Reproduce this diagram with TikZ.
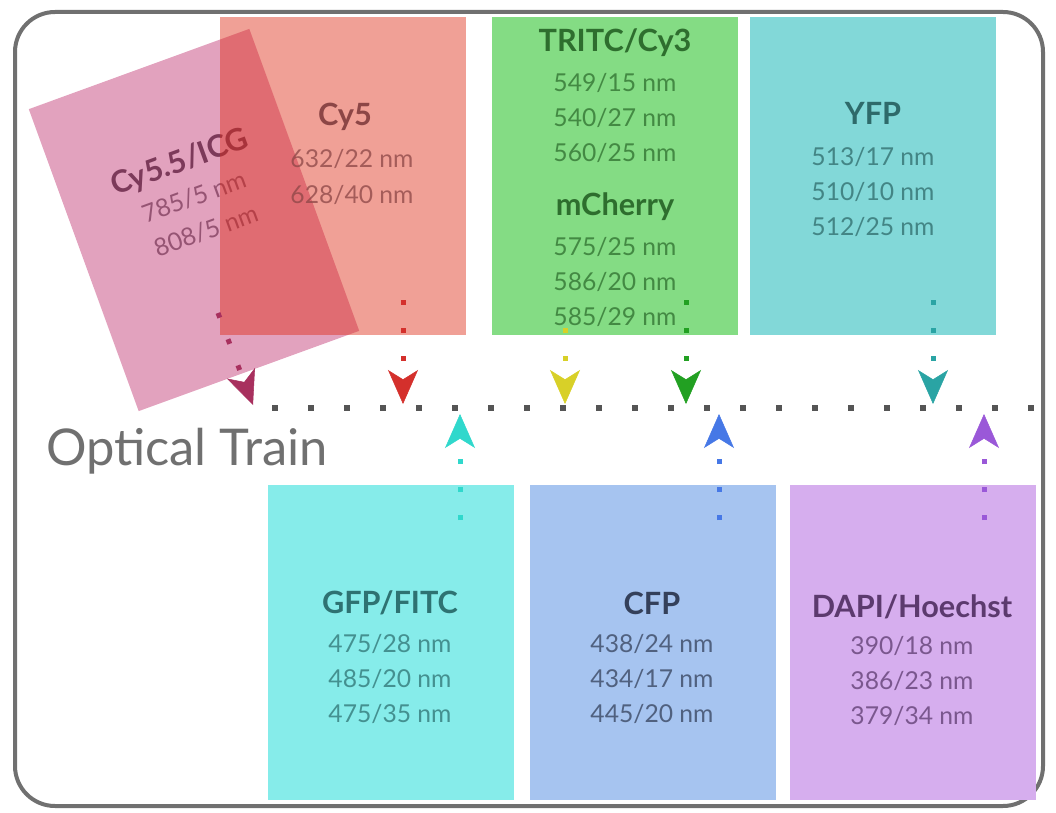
\documentclass[tikz,border=0pt]{standalone}
\usepackage{fontspec}
\setmainfont{Lato}
\usetikzlibrary{arrows.meta}

\definecolor{frameGray}{HTML}{707070}
\definecolor{trainGray}{HTML}{555555}
\definecolor{pinkFill}{HTML}{E2A2BE}
\definecolor{redFill}{RGB}{222,44,22}
\definecolor{greenFill}{HTML}{84DC84}
\definecolor{tealFill}{HTML}{82D8D8}
\definecolor{cyanFill}{HTML}{86ECEA}
\definecolor{blueFill}{HTML}{A6C4F0}
\definecolor{purpleFill}{HTML}{D6AEEE}
\definecolor{pinkText}{HTML}{7C3A5A}
\definecolor{redText}{HTML}{8C4646}
\definecolor{greenText}{HTML}{2E6E2E}
\definecolor{tealText}{HTML}{2E6A6A}
\definecolor{cyanText}{HTML}{2E7272}
\definecolor{blueText}{HTML}{34405A}
\definecolor{purpleText}{HTML}{5C3A6E}
\definecolor{maroonArrow}{HTML}{A8305E}
\definecolor{redArrow}{HTML}{D4302C}
\definecolor{yellowArrow}{HTML}{D8D028}
\definecolor{greenArrow}{HTML}{22A022}
\definecolor{tealArrow}{HTML}{2AA4A4}
\definecolor{cyanArrow}{HTML}{30D8CC}
\definecolor{blueArrow}{HTML}{4678E6}
\definecolor{purpleArrow}{HTML}{9A58D8}

\tikzset{
  filterbox/.style={rectangle, inner sep=0pt, anchor=north west,
    minimum width=184pt, minimum height=238pt},
  lowbox/.style={filterbox, minimum height=236pt},
  dyename/.style={font=\bfseries\fontsize{23}{26}\selectfont},
  passband/.style={font=\fontsize{18.5}{26.5}\selectfont, align=center, opacity=.75},
  lightpath/.style={line width=3.75pt, dash pattern=on 3.75pt off 17.25pt,
    -{Stealth[length=25.5pt, width=22.5pt, inset=7pt, line width=0.4pt]}},
}

\begin{document}
\begin{tikzpicture}[x=0.75pt, y=-0.75pt]
    \useasboundingbox (0,0) rectangle (1056,813);
    \draw[frameGray, line width=3pt, rounded corners=30pt] (15,12) rectangle (1043,806);

    \node[filterbox, fill=greenFill] at (492,17) (tritc) {};
    \node[filterbox, fill=tealFill] at (750,17) (yfp) {};
    \node[lowbox, fill=cyanFill] at (268,485) (gfp) {};
    \node[lowbox, fill=blueFill] at (530,485) (cfp) {};
    \node[lowbox, fill=purpleFill] at (790,485) (dapi) {};

    \node[rectangle, inner sep=0pt, minimum width=176pt, minimum height=241pt,
          rotate=20, fill=pinkFill] at (194,220) (icg) {};
    \node[dyename, text=pinkText, rotate=20, inner sep=1pt] at (180,163) (icgName) {Cy5.5/ICG};
    \node[passband, text=pinkText, rotate=20, inner sep=1pt] at (194,197) (icgBandA) {785/5 nm};
    \node[passband, text=pinkText, rotate=20, inner sep=1pt] at (206,231) (icgBandB) {808/5 nm};
    \node[filterbox, fill=redFill, fill opacity=.45] at (220,17) (cyfive) {};

    \node[dyename, text=redText] at (345,117) (cyfiveName) {Cy5};
    \node[passband, text=redText] at (352,177) (cyfiveBands) {632/22 nm\\628/40 nm};
    \node[dyename, text=greenText] at (615,43) (tritcName) {TRITC/Cy3};
    \node[passband, text=greenText] at (615,118) (tritcBands) {549/15 nm\\540/27 nm\\560/25 nm};
    \node[dyename, text=greenText] at (615,207) (cherryName) {mCherry};
    \node[passband, text=greenText] at (615,282) (cherryBands) {575/25 nm\\586/20 nm\\585/29 nm};
    \node[dyename, text=tealText] at (873,113) (yfpName) {YFP};
    \node[passband, text=tealText] at (873,192) (yfpBands) {513/17 nm\\510/10 nm\\512/25 nm};
    \node[dyename, text=cyanText] at (390,603) (gfpName) {GFP/FITC};
    \node[passband, text=cyanText] at (390,679) (gfpBands) {475/28 nm\\485/20 nm\\475/35 nm};
    \node[dyename, text=blueText] at (652,603) (cfpName) {CFP};
    \node[passband, text=blueText] at (652,679) (cfpBands) {438/24 nm\\434/17 nm\\445/20 nm};
    \node[dyename, text=purpleText] at (912,607) (dapiName) {DAPI/Hoechst};
    \node[passband, text=purpleText] at (912,681) (dapiBands) {390/18 nm\\386/23 nm\\379/34 nm};

    \node[text=frameGray, font=\fontsize{38}{40}\selectfont, anchor=base] at (187,465) (train) {Optical Train};
    \coordinate (trainL) at (272,408);
    \coordinate (trainR) at (1056,408);
    \draw[trainGray, line width=4.5pt, dash pattern=on 4.5pt off 22.5pt] (trainL) -- (trainR);

    \coordinate (icgS) at (218,313);    \coordinate (icgT) at (253,405);
    \coordinate (cyfiveS) at (403,300); \coordinate (cyfiveT) at (403,404);
    \coordinate (tritcS) at (565,328);  \coordinate (tritcT) at (565,404);
    \coordinate (cherryS) at (686,300); \coordinate (cherryT) at (686,404);
    \coordinate (yfpS) at (933,300);    \coordinate (yfpT) at (933,404);
    \coordinate (gfpS) at (460,520);    \coordinate (gfpT) at (460,414);
    \coordinate (cfpS) at (719,520);    \coordinate (cfpT) at (719,414);
    \coordinate (dapiS) at (984,520);   \coordinate (dapiT) at (984,414);

    \draw[lightpath, maroonArrow] (icgS) -- (icgT);
    \draw[lightpath, redArrow] (cyfiveS) -- (cyfiveT);
    \draw[lightpath, yellowArrow] (tritcS) -- (tritcT);
    \draw[lightpath, greenArrow] (cherryS) -- (cherryT);
    \draw[lightpath, tealArrow] (yfpS) -- (yfpT);
    \draw[lightpath, cyanArrow] (gfpS) -- (gfpT);
    \draw[lightpath, blueArrow] (cfpS) -- (cfpT);
    \draw[lightpath, purpleArrow] (dapiS) -- (dapiT);
\end{tikzpicture}
\end{document}
